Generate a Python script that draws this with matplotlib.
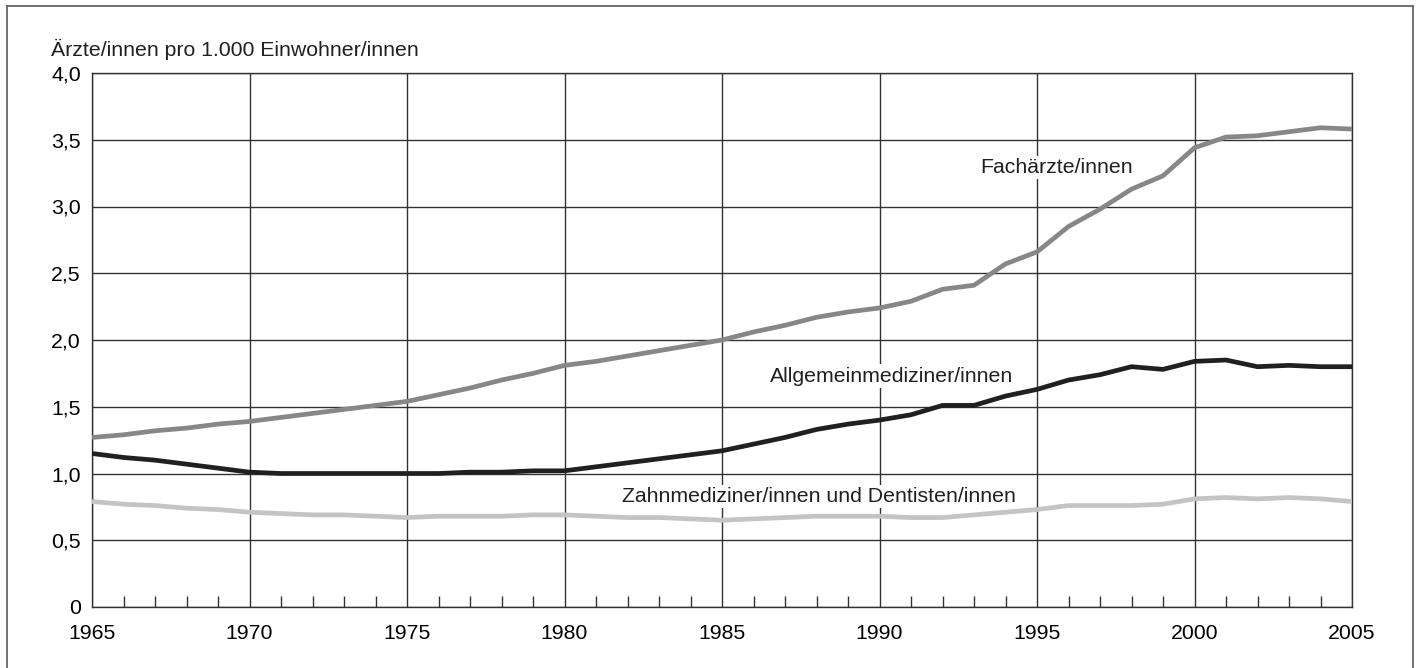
import numpy as np
import matplotlib.pyplot as plt
from matplotlib.ticker import MultipleLocator, FixedLocator
from matplotlib.lines import Line2D

plt.rcParams['font.family'] = ['Liberation Sans', 'DejaVu Sans']

# data
years = list(range(1965, 2006))

fachaerzte = [1.27, 1.29, 1.32, 1.34, 1.37, 1.39, 1.42, 1.45, 1.48, 1.51,
              1.54, 1.59, 1.64, 1.70, 1.75, 1.81, 1.84, 1.88, 1.92, 1.96,
              2.00, 2.06, 2.11, 2.17, 2.21, 2.24, 2.29, 2.38, 2.41, 2.57,
              2.66, 2.85, 2.98, 3.13, 3.23, 3.44, 3.52, 3.53, 3.56, 3.59,
              3.58]

allgemein = [1.15, 1.12, 1.10, 1.07, 1.04, 1.01, 1.00, 1.00, 1.00, 1.00,
             1.00, 1.00, 1.01, 1.01, 1.02, 1.02, 1.05, 1.08, 1.11, 1.14,
             1.17, 1.22, 1.27, 1.33, 1.37, 1.40, 1.44, 1.51, 1.51, 1.58,
             1.63, 1.70, 1.74, 1.80, 1.78, 1.84, 1.85, 1.80, 1.81, 1.80,
             1.80]

zahn = [0.79, 0.77, 0.76, 0.74, 0.73, 0.71, 0.70, 0.69, 0.69, 0.68,
        0.67, 0.68, 0.68, 0.68, 0.69, 0.69, 0.68, 0.67, 0.67, 0.66,
        0.65, 0.66, 0.67, 0.68, 0.68, 0.68, 0.67, 0.67, 0.69, 0.71,
        0.73, 0.76, 0.76, 0.76, 0.77, 0.81, 0.82, 0.81, 0.82, 0.81,
        0.79]

x_major = [1965, 1970, 1975, 1980, 1985, 1990, 1995, 2000, 2005]
y_major = [0, 0.5, 1.0, 1.5, 2.0, 2.5, 3.0, 3.5, 4.0]
y_labels = ['0', '0,5', '1,0', '1,5', '2,0', '2,5', '3,0', '3,5', '4,0']

fs = 15.3

fig = plt.figure(figsize=(14.18, 6.68), dpi=100)
ax = fig.add_axes([92 / 1418, 61 / 668, (1352 - 92) / 1418, (607 - 73) / 668])

# outer frame (open at the bottom)
frame_col = '#666666'
for xs, ys in [([7, 7], [0, 662]), ([7, 1413], [662, 662]), ([1413, 1413], [662, 0])]:
    fig.add_artist(Line2D([v / 1418 for v in xs], [v / 668 for v in ys],
                          color=frame_col, lw=1.3, transform=fig.transFigure))

ax.set_xlim(1965, 2005)
ax.set_ylim(0, 4.0)

ax.xaxis.set_major_locator(FixedLocator(x_major))
ax.xaxis.set_minor_locator(MultipleLocator(1))
ax.set_yticks(y_major)
ax.set_yticklabels(y_labels)

ax.grid(True, which='major', color='#333333', lw=1.0, zorder=0)
ax.tick_params(axis='x', which='major', length=0, pad=12, labelsize=fs)
ax.tick_params(axis='x', which='minor', direction='in', length=8, width=1.0, color='#333333')
ax.tick_params(axis='y', which='major', length=0, pad=8, labelsize=fs)
for s in ax.spines.values():
    s.set_color('#333333')
    s.set_linewidth(1.0)

ax.plot(years, fachaerzte, color='#878787', lw=3.4, zorder=3, solid_capstyle='butt')
ax.plot(years, allgemein, color='#231f20', lw=3.4, zorder=3, solid_capstyle='butt')
ax.plot(years, zahn, color='#c4c4c4', lw=3.4, zorder=3, solid_capstyle='butt')

box = dict(facecolor='white', edgecolor='none', pad=1.5)
ax.text(1993.19, 3.29, 'Fachärzte/innen', fontsize=fs, va='center', ha='left',
        color='#231f20', bbox=box, zorder=2)
ax.text(1986.52, 1.73, 'Allgemeinmediziner/innen', fontsize=fs, va='center', ha='left',
        color='#231f20', bbox=box, zorder=2)
ax.text(1981.83, 0.83, 'Zahnmediziner/innen und Dentisten/innen', fontsize=fs,
        va='center', ha='left', color='#231f20', bbox=box, zorder=2)

fig.text(51 / 1418, 1 - 49 / 668, 'Ärzte/innen pro 1.000 Einwohner/innen',
         fontsize=fs, va='center', ha='left', color='#231f20')

fig.savefig('out.png', dpi=100)
